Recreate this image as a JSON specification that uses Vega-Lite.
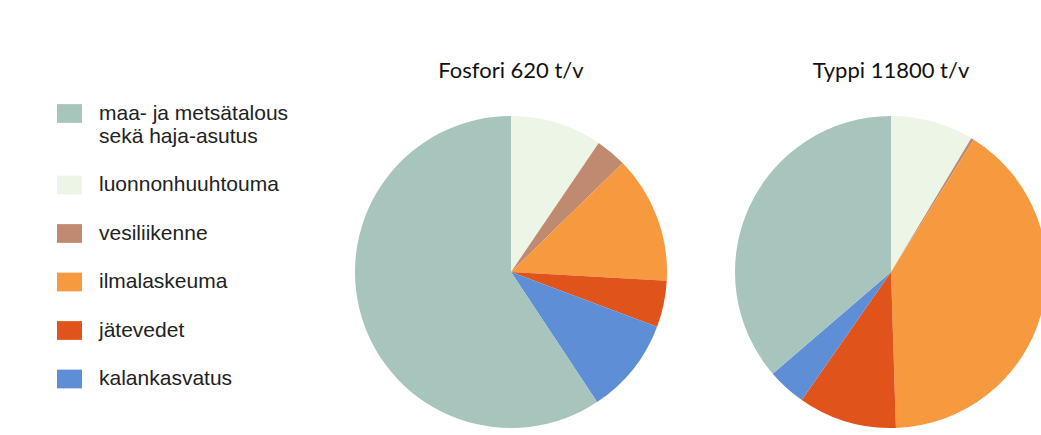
{
  "$schema": "https://vega.github.io/schema/vega-lite/v6.json",
  "padding": {"left": 57, "top": 60, "right": 0, "bottom": 0},
  "background": "white",
  "data": {"values": [
    {"aine": "Fosfori 620 t/v", "lahde": "luonnonhuuhtouma", "jarjestys": 1, "osuus": 9.5},
    {"aine": "Fosfori 620 t/v", "lahde": "vesiliikenne", "jarjestys": 2, "osuus": 3.2},
    {"aine": "Fosfori 620 t/v", "lahde": "ilmalaskeuma", "jarjestys": 3, "osuus": 13.2},
    {"aine": "Fosfori 620 t/v", "lahde": "jätevedet", "jarjestys": 4, "osuus": 4.8},
    {"aine": "Fosfori 620 t/v", "lahde": "kalankasvatus", "jarjestys": 5, "osuus": 10.0},
    {"aine": "Fosfori 620 t/v", "lahde": "maa- ja metsätalous sekä haja-asutus", "jarjestys": 6, "osuus": 59.3},
    {"aine": "Typpi 11800 t/v", "lahde": "luonnonhuuhtouma", "jarjestys": 1, "osuus": 8.6},
    {"aine": "Typpi 11800 t/v", "lahde": "vesiliikenne", "jarjestys": 2, "osuus": 0.3},
    {"aine": "Typpi 11800 t/v", "lahde": "ilmalaskeuma", "jarjestys": 3, "osuus": 40.6},
    {"aine": "Typpi 11800 t/v", "lahde": "jätevedet", "jarjestys": 4, "osuus": 10.2},
    {"aine": "Typpi 11800 t/v", "lahde": "kalankasvatus", "jarjestys": 5, "osuus": 4.0},
    {"aine": "Typpi 11800 t/v", "lahde": "maa- ja metsätalous sekä haja-asutus", "jarjestys": 6, "osuus": 36.3}
  ]},
  "facet": {
    "column": {
      "field": "aine", "type": "nominal",
      "sort": ["Fosfori 620 t/v", "Typpi 11800 t/v"],
      "header": {"title": null, "labelFontSize": 22, "labelFont": "Lato", "labelColor": "#111111", "labelPadding": 33, "labelOrient": "top"}
    }
  },
  "spacing": 68,
  "spec": {
    "width": 312,
    "height": 312,
    "mark": {"type": "arc", "outerRadius": 156},
    "encoding": {
      "theta": {"field": "osuus", "type": "quantitative", "stack": true},
      "order": {"field": "jarjestys", "type": "quantitative"},
      "color": {
        "field": "lahde", "type": "nominal",
        "scale": {
          "domain": ["maa- ja metsätalous sekä haja-asutus", "luonnonhuuhtouma", "vesiliikenne", "ilmalaskeuma", "jätevedet", "kalankasvatus"],
          "range": ["#a7c4bd", "#edf5e6", "#c08a70", "#f7993f", "#e0531a", "#5e8fd6"]
        },
        "legend": {
          "orient": "none",
          "legendX": -298,
          "legendY": -15,
          "title": null,
          "symbolType": "M-1,-0.75H1V0.75H-1Z",
          "symbolSize": 625,
          "symbolStrokeWidth": 0,
          "symbolOpacity": 1,
          "labelFontSize": 21,
          "labelFont": "Liberation Sans",
          "labelColor": "#222222",
          "labelOffset": 17,
          "labelLimit": 400,
          "rowPadding": 25.5,
          "labelExpr": "datum.value == 'maa- ja metsätalous sekä haja-asutus' ? ['maa- ja metsätalous', 'sekä haja-asutus'] : datum.label"
        }
      }
    }
  },
  "config": {"view": {"stroke": null}}
}
